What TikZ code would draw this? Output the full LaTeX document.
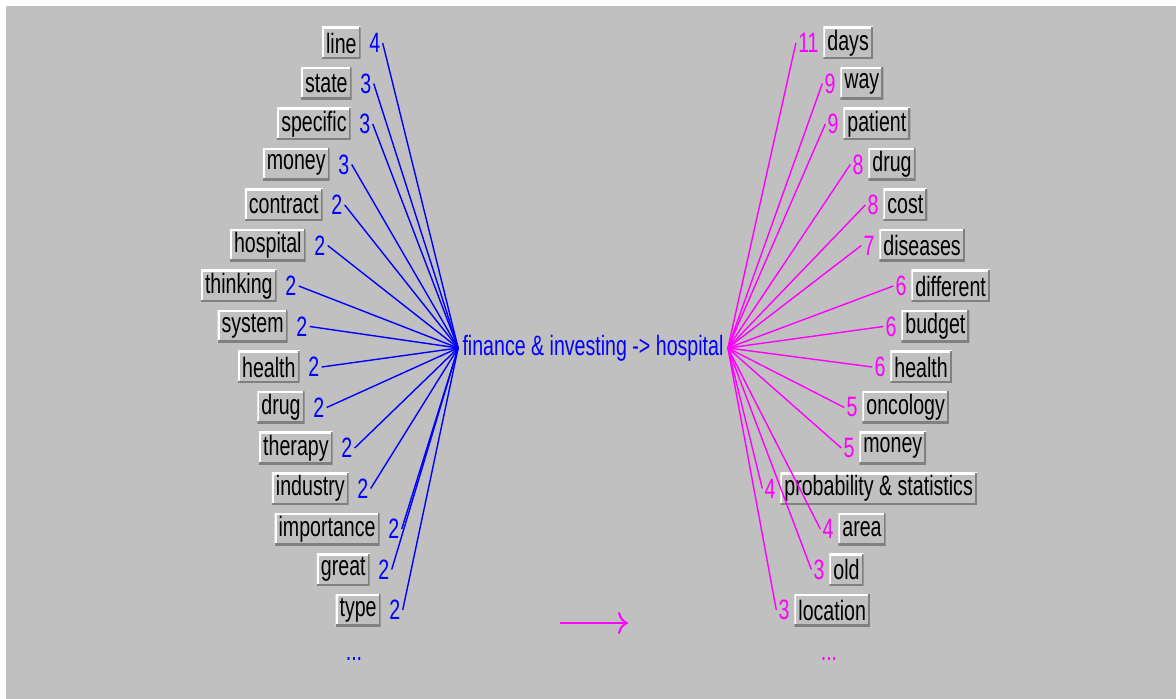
\documentclass[tikz,border=0pt]{standalone}
\usepackage{fontspec}
\usetikzlibrary{positioning,arrows.meta}
\newfontfamily\lblfont[FakeStretch=0.7]{Liberation Sans}
\definecolor{panel}{HTML}{C0C0C0}
\definecolor{shade}{HTML}{808080}
\definecolor{lblue}{HTML}{0000FF}
\definecolor{lpink}{HTML}{FF00FF}

\begin{document}
\begin{tikzpicture}[x=0.5pt, y=-0.5pt,
        word/.style = {fill=panel, text=black, font=\lblfont\fontsize{14pt}{16pt}\selectfont,
            inner xsep=2pt, inner ysep=0pt, minimum height=16pt,
            path picture={
                \draw[fill=none, draw=white, line width=2pt] (path picture bounding box.south west) |- (path picture bounding box.north east);
                \draw[fill=none, draw=shade, line width=2pt] (path picture bounding box.south west) -| (path picture bounding box.north east);}},
        lnum/.style = {text=lblue, font=\lblfont\fontsize{14pt}{16pt}\selectfont, inner sep=1pt},
        rnum/.style = {text=lpink, font=\lblfont\fontsize{14pt}{16pt}\selectfont, inner sep=1pt},
        lline/.style = {draw=lblue, line width=0.7pt},
        rline/.style = {draw=lpink, line width=0.7pt}]
    \fill[white] (0,0) rectangle (1176,699);
    \fill[panel] (6,6) rectangle (1176,699);
    \useasboundingbox (0,0) rectangle (1176,699);

    % centre label
    \node[text=lblue, font=\lblfont\fontsize{14pt}{16pt}\selectfont, inner xsep=2pt] (title) at (593,348) {finance \& investing -> hospital};

    % left side
    \node[word, anchor=east] (lw1) at (361,43) {line};
    \node[lnum, right=3pt of lw1] (ln1) {4};
    \node[word, anchor=east] (lw2) at (352,83.5) {state};
    \node[lnum, right=3pt of lw2] (ln2) {3};
    \node[word, anchor=east] (lw3) at (351,124) {specific};
    \node[lnum, right=3pt of lw3] (ln3) {3};
    \node[word, anchor=east] (lw4) at (330,164.5) {money};
    \node[lnum, right=3pt of lw4] (ln4) {3};
    \node[word, anchor=east] (lw5) at (323,205) {contract};
    \node[lnum, right=3pt of lw5] (ln5) {2};
    \node[word, anchor=east] (lw6) at (306,245.5) {hospital};
    \node[lnum, right=3pt of lw6] (ln6) {2};
    \node[word, anchor=east] (lw7) at (277,286) {thinking};
    \node[lnum, right=3pt of lw7] (ln7) {2};
    \node[word, anchor=east] (lw8) at (288,326.5) {system};
    \node[lnum, right=3pt of lw8] (ln8) {2};
    \node[word, anchor=east] (lw9) at (300,367) {health};
    \node[lnum, right=3pt of lw9] (ln9) {2};
    \node[word, anchor=east] (lw10) at (305,407.5) {drug};
    \node[lnum, right=3pt of lw10] (ln10) {2};
    \node[word, anchor=east] (lw11) at (333,448) {therapy};
    \node[lnum, right=3pt of lw11] (ln11) {2};
    \node[word, anchor=east] (lw12) at (349,488.5) {industry};
    \node[lnum, right=3pt of lw12] (ln12) {2};
    \node[word, anchor=east] (lw13) at (380,529) {importance};
    \node[lnum, right=3pt of lw13] (ln13) {2};
    \node[word, anchor=east] (lw14) at (370,569.5) {great};
    \node[lnum, right=3pt of lw14] (ln14) {2};
    \node[word, anchor=east] (lw15) at (381,610) {type};
    \node[lnum, right=3pt of lw15] (ln15) {2};
    \node[lnum] (ldots) at (354,659) {...};

    \draw[lline] (ln1.east) -- (title.west);
    \draw[lline] (ln2.east) -- (title.west);
    \draw[lline] (ln3.east) -- (title.west);
    \draw[lline] (ln4.east) -- (title.west);
    \draw[lline] (ln5.east) -- (title.west);
    \draw[lline] (ln6.east) -- (title.west);
    \draw[lline] (ln7.east) -- (title.west);
    \draw[lline] (ln8.east) -- (title.west);
    \draw[lline] (ln9.east) -- (title.west);
    \draw[lline] (ln10.east) -- (title.west);
    \draw[lline] (ln11.east) -- (title.west);
    \draw[lline] (ln12.east) -- (title.west);
    \draw[lline] (ln13.east) -- (title.west);
    \draw[lline] (ln14.east) -- (title.west);
    \draw[lline] (ln15.east) -- (title.west);

    % right side
    \node[word, anchor=west] (rw1) at (823,43) {days};
    \node[rnum, left=1pt of rw1] (rn1) {11};
    \node[word, anchor=west] (rw2) at (840,83.5) {way};
    \node[rnum, left=1pt of rw2] (rn2) {9};
    \node[word, anchor=west] (rw3) at (843,124) {patient};
    \node[rnum, left=1pt of rw3] (rn3) {9};
    \node[word, anchor=west] (rw4) at (868,164.5) {drug};
    \node[rnum, left=1pt of rw4] (rn4) {8};
    \node[word, anchor=west] (rw5) at (883,205) {cost};
    \node[rnum, left=1pt of rw5] (rn5) {8};
    \node[word, anchor=west] (rw6) at (879,245.5) {diseases};
    \node[rnum, left=1pt of rw6] (rn6) {7};
    \node[word, anchor=west] (rw7) at (911,286) {different};
    \node[rnum, left=1pt of rw7] (rn7) {6};
    \node[word, anchor=west] (rw8) at (901,326.5) {budget};
    \node[rnum, left=1pt of rw8] (rn8) {6};
    \node[word, anchor=west] (rw9) at (890,367) {health};
    \node[rnum, left=1pt of rw9] (rn9) {6};
    \node[word, anchor=west] (rw10) at (862,407.5) {oncology};
    \node[rnum, left=1pt of rw10] (rn10) {5};
    \node[word, anchor=west] (rw11) at (859,448) {money};
    \node[rnum, left=1pt of rw11] (rn11) {5};
    \node[word, anchor=west] (rw12) at (780,488.5) {probability \& statistics};
    \node[rnum, left=1pt of rw12] (rn12) {4};
    \node[word, anchor=west] (rw13) at (838,529) {area};
    \node[rnum, left=1pt of rw13] (rn13) {4};
    \node[word, anchor=west] (rw14) at (829,569.5) {old};
    \node[rnum, left=1pt of rw14] (rn14) {3};
    \node[word, anchor=west] (rw15) at (794,610) {location};
    \node[rnum, left=1pt of rw15] (rn15) {3};
    \node[rnum] (rdots) at (829,659) {...};

    \draw[rline] (title.east) -- (rn1.west);
    \draw[rline] (title.east) -- (rn2.west);
    \draw[rline] (title.east) -- (rn3.west);
    \draw[rline] (title.east) -- (rn4.west);
    \draw[rline] (title.east) -- (rn5.west);
    \draw[rline] (title.east) -- (rn6.west);
    \draw[rline] (title.east) -- (rn7.west);
    \draw[rline] (title.east) -- (rn8.west);
    \draw[rline] (title.east) -- (rn9.west);
    \draw[rline] (title.east) -- (rn10.west);
    \draw[rline] (title.east) -- (rn11.west);
    \draw[rline] (title.east) -- (rn12.west);
    \draw[rline] (title.east) -- (rn13.west);
    \draw[rline] (title.east) -- (rn14.west);
    \draw[rline] (title.east) -- (rn15.west);

    % legend arrow
    \coordinate (arrS) at (560,623);
    \coordinate (arrE) at (628,623);
    \draw[lpink, line width=1pt, -{To[length=5pt,width=11pt]}] (arrS) -- (arrE);
\end{tikzpicture}
\end{document}
